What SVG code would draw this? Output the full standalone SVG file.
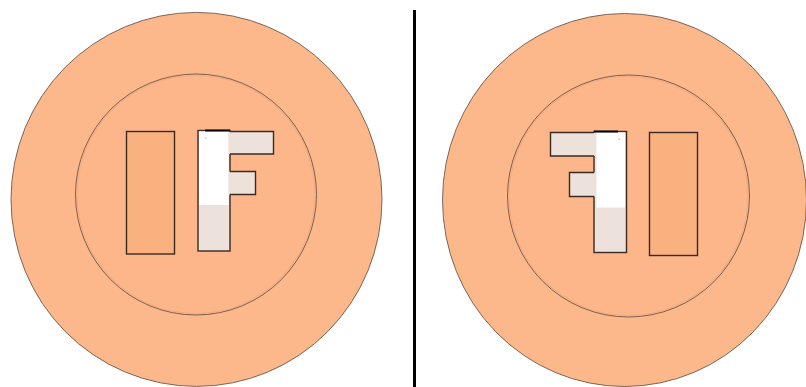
<svg xmlns="http://www.w3.org/2000/svg" width="806" height="387" viewBox="0 0 806 387">
<style>
.outer{fill:#fcb78a;stroke:#5a4a40;stroke-width:0.8}
.inner{fill:#fcb68a;stroke:#5a4a40;stroke-width:0.8}
.ring{fill:none;stroke:#f0a77c;stroke-width:0.8}
.bar{fill:#fab180;stroke:#3a2a22;stroke-width:1.4}
.pale{fill:#ece2db;stroke:#3a2a22;stroke-width:1.4}
.armfill{fill:#ece2db}
.armedge{fill:none;stroke:#3a2a22;stroke-width:1.4}
.white{fill:#ffffff}
.edge{stroke:#000;stroke-width:2}
</style>
<rect width="806" height="387" fill="#ffffff"/>
<g id="left-coin">
<ellipse class="outer" cx="196.5" cy="199.4" rx="185.5" ry="187"/>
<circle class="inner" cx="196" cy="194.5" r="120.5"/>
<circle class="ring" cx="196" cy="194.5" r="119"/>
</g>
<g id="left-I">
<rect class="bar" x="126.5" y="131.5" width="48" height="122.5"/>
</g>
<g id="left-F">
<rect class="pale" x="198" y="130.5" width="32" height="120.5"/>
<rect class="white" x="199" y="131.5" width="29.5" height="73.5"/>
<rect class="armfill" x="228.5" y="131.5" width="45" height="22.5"/>
<polyline class="armedge" points="230,131.5 273.5,131.5 273.5,154 230,154"/>
<rect class="armfill" x="228.5" y="171.5" width="27" height="23"/>
<polyline class="armedge" points="230,171.5 255.5,171.5 255.5,194.5 230,194.5"/>
<line class="edge" x1="205" y1="130.5" x2="230" y2="130.5"/>
<rect x="205.5" y="137.5" width="1" height="1" fill="#777"/>
</g>
<g id="divider">
<line x1="414.5" y1="10" x2="414.5" y2="387" stroke="#000" stroke-width="3"/>
</g>
<g id="right-coin">
<ellipse class="outer" cx="624.5" cy="200" rx="182" ry="186.5"/>
<circle class="inner" cx="628.5" cy="196" r="121"/>
<circle class="ring" cx="628.5" cy="196" r="119.5"/>
</g>
<g id="right-F">
<rect class="pale" x="594" y="131.5" width="32.5" height="121"/>
<rect class="white" x="596.5" y="132.5" width="28.5" height="75"/>
<rect class="armfill" x="550.5" y="132.5" width="45.5" height="23.5"/>
<polyline class="armedge" points="594,132.5 550.5,132.5 550.5,156 594,156"/>
<rect class="armfill" x="569.5" y="172.5" width="26.5" height="24"/>
<polyline class="armedge" points="594,172.5 569.5,172.5 569.5,196.5 594,196.5"/>
<line class="edge" x1="594" y1="131.5" x2="618" y2="131.5"/>
<rect x="618.5" y="138.5" width="1.2" height="1.2" fill="#999"/>
</g>
<g id="right-I">
<rect class="bar" x="649.5" y="132.5" width="48" height="123"/>
</g>
</svg>
